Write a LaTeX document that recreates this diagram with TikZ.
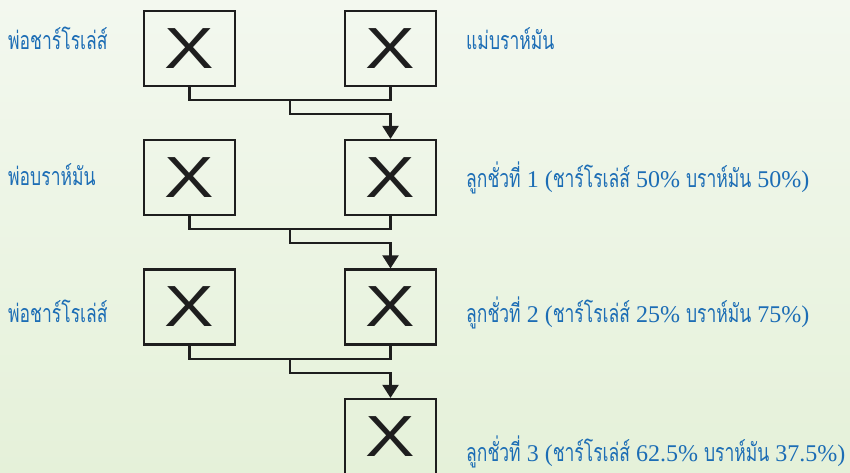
\documentclass[tikz,border=0pt]{standalone}
\usepackage{fontspec}
\setmainfont{Liberation Serif}
\newfontfamily\thai[Script=Thai,FakeStretch=0.70]{Loma}
\newfontfamily\xfont{Liberation Sans}
\usetikzlibrary{arrows.meta,calc}
\definecolor{bgtop}{HTML}{F3F8EF}
\definecolor{bgbot}{HTML}{E5F1D9}
\definecolor{lblue}{HTML}{1C6DB5}
\definecolor{ink}{HTML}{1E1E1E}
\newcommand{\tht}[1]{{\thai\fontsize{25}{25}\selectfont #1}}
\begin{document}
\begin{tikzpicture}[x=1pt,y=-1pt,
  xbox/.style={draw=ink,line width=2.2pt,minimum width=91pt,minimum height=75pt,inner sep=0pt,
    font=\xfont\fontsize{58}{58}\selectfont,text=ink},
  lbl/.style={anchor=base west,inner sep=0pt,text=lblue,font=\fontsize{24}{24}\selectfont},
  link/.style={draw=ink,line width=2.2pt},
  arr/.style={link,-{Triangle[width=16pt,length=13pt]}}]
\useasboundingbox (0,0) rectangle (850,473);
\shade[top color=bgtop,bottom color=bgbot] (0,0) rectangle (850,473);
% boxes
\node[xbox] (a1) at (189.5,48.5) {\scalebox{1.28}[1]{X}};
\node[xbox] (a2) at (390.5,48.5) {\scalebox{1.28}[1]{X}};
\node[xbox] (b1) at (189.5,177.5) {\scalebox{1.28}[1]{X}};
\node[xbox] (b2) at (390.5,177.5) {\scalebox{1.28}[1]{X}};
\node[xbox] (c1) at (189.5,307) {\scalebox{1.28}[1]{X}};
\node[xbox] (c2) at (390.5,307) {\scalebox{1.28}[1]{X}};
\node[xbox] (d2) at (390.5,436.5) {\scalebox{1.28}[1]{X}};
% connectors
\coordinate (j1) at ($(a1.south)!0.5!(a2.south)+(0,13)$);
\draw[link] (a1.south) -- ++(0,13) -| (a2.south);
\draw[arr] (j1) -- ++(0,14) -| (b2.north);
\coordinate (j2) at ($(b1.south)!0.5!(b2.south)+(0,13)$);
\draw[link] (b1.south) -- ++(0,13) -| (b2.south);
\draw[arr] (j2) -- ++(0,14) -| (c2.north);
\coordinate (j3) at ($(c1.south)!0.5!(c2.south)+(0,13)$);
\draw[link] (c1.south) -- ++(0,13) -| (c2.south);
\draw[arr] (j3) -- ++(0,14) -| (d2.north);
% labels
\node[lbl] (l1) at (8,49.5) {\tht{พ่อชาร์โรเล่ส์}};
\node[lbl] (r1) at (466,50) {\tht{แม่บราห์มัน}};
\node[lbl] (l2) at (8,185) {\tht{พ่อบราห์มัน}};
\node[lbl] (r2) at (466,187) {\tht{ลูกชั่วที่} 1 (\tht{ชาร์โรเล่ส์} 50\% \tht{บราห์มัน} 50\%)};
\node[lbl] (l3) at (8,322) {\tht{พ่อชาร์โรเล่ส์}};
\node[lbl] (r3) at (466,322) {\tht{ลูกชั่วที่} 2 (\tht{ชาร์โรเล่ส์} 25\% \tht{บราห์มัน} 75\%)};
\node[lbl] (r4) at (466,461) {\tht{ลูกชั่วที่} 3 (\tht{ชาร์โรเล่ส์} 62.5\% \tht{บราห์มัน} 37.5\%)};
\end{tikzpicture}
\end{document}
